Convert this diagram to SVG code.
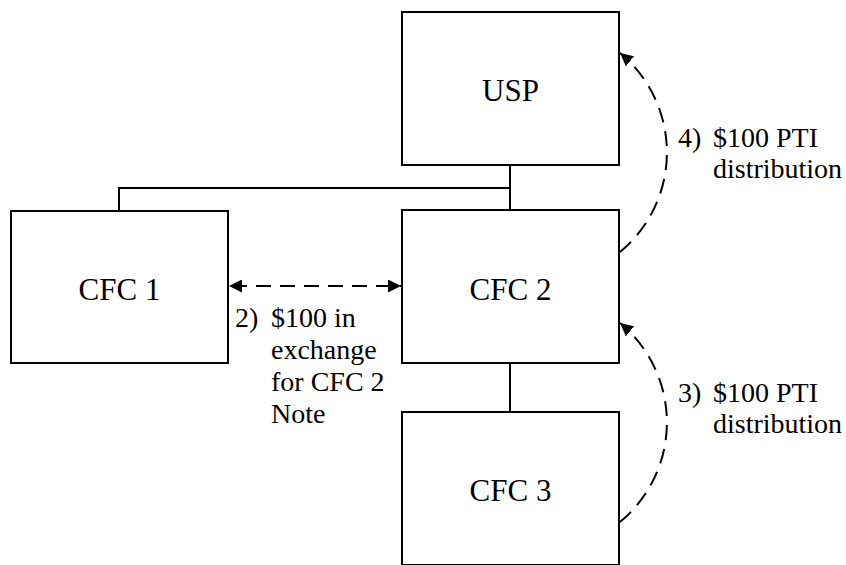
<svg xmlns="http://www.w3.org/2000/svg" width="846" height="565" viewBox="0 0 846 565">
<style>
.box{fill:#fff;stroke:#000;stroke-width:2}
.lbl{font-size:31px;fill:#000;text-anchor:middle}
.note{font-size:28px;fill:#000}
.line{fill:none;stroke:#000;stroke-width:2}
.dash{fill:none;stroke:#000;stroke-width:2;stroke-dasharray:15 9}
</style>
<defs>
<marker id="ah" markerUnits="userSpaceOnUse" markerWidth="14" markerHeight="13" refX="13" refY="6.5" orient="auto-start-reverse" viewBox="0 0 14 13">
<path d="M0,0 L13,6.5 L0,13 z" fill="#000"/>
</marker>
</defs>
<g id="connectors">
<path class="line" d="M510,165 V210"/>
<path class="line" d="M119,211 V188 H510"/>
<path class="line" d="M510,363 V412"/>
<path class="dash" d="M229,286 H401" stroke-dashoffset="-3" marker-start="url(#ah)" marker-end="url(#ah)"/>
<path class="dash" d="M620,252 A129,129 0 0 0 620,53" marker-end="url(#ah)"/>
<path class="dash" d="M620,522 A129,129 0 0 0 620,323" marker-end="url(#ah)"/>
</g>
<g font-family="Liberation Serif, DejaVu Serif, serif">
<g id="usp">
<rect class="box" x="402" y="12" width="217" height="153"/>
<text class="lbl" x="510.5" y="101">USP</text>
</g>
<g id="cfc1">
<rect class="box" x="11" y="211" width="217" height="152"/>
<text class="lbl" x="119.5" y="300">CFC 1</text>
</g>
<g id="cfc2">
<rect class="box" x="402" y="210" width="217" height="153"/>
<text class="lbl" x="510.5" y="300">CFC 2</text>
</g>
<g id="cfc3">
<rect class="box" x="402" y="412" width="217" height="153"/>
<text class="lbl" x="510.5" y="501">CFC 3</text>
</g>
<g id="label2">
<text class="note" x="235" y="327">2)</text>
<text class="note" x="271" y="327">$100 in</text>
<text class="note" x="271" y="359">exchange</text>
<text class="note" x="271" y="391">for CFC 2</text>
<text class="note" x="271" y="423">Note</text>
</g>
<g id="label4">
<text class="note" x="678" y="147">4)</text>
<text class="note" x="713" y="147">$100 PTI</text>
<text class="note" x="713" y="178">distribution</text>
</g>
<g id="label3">
<text class="note" x="678" y="402">3)</text>
<text class="note" x="713" y="402">$100 PTI</text>
<text class="note" x="713" y="433">distribution</text>
</g>
</g>
</svg>
